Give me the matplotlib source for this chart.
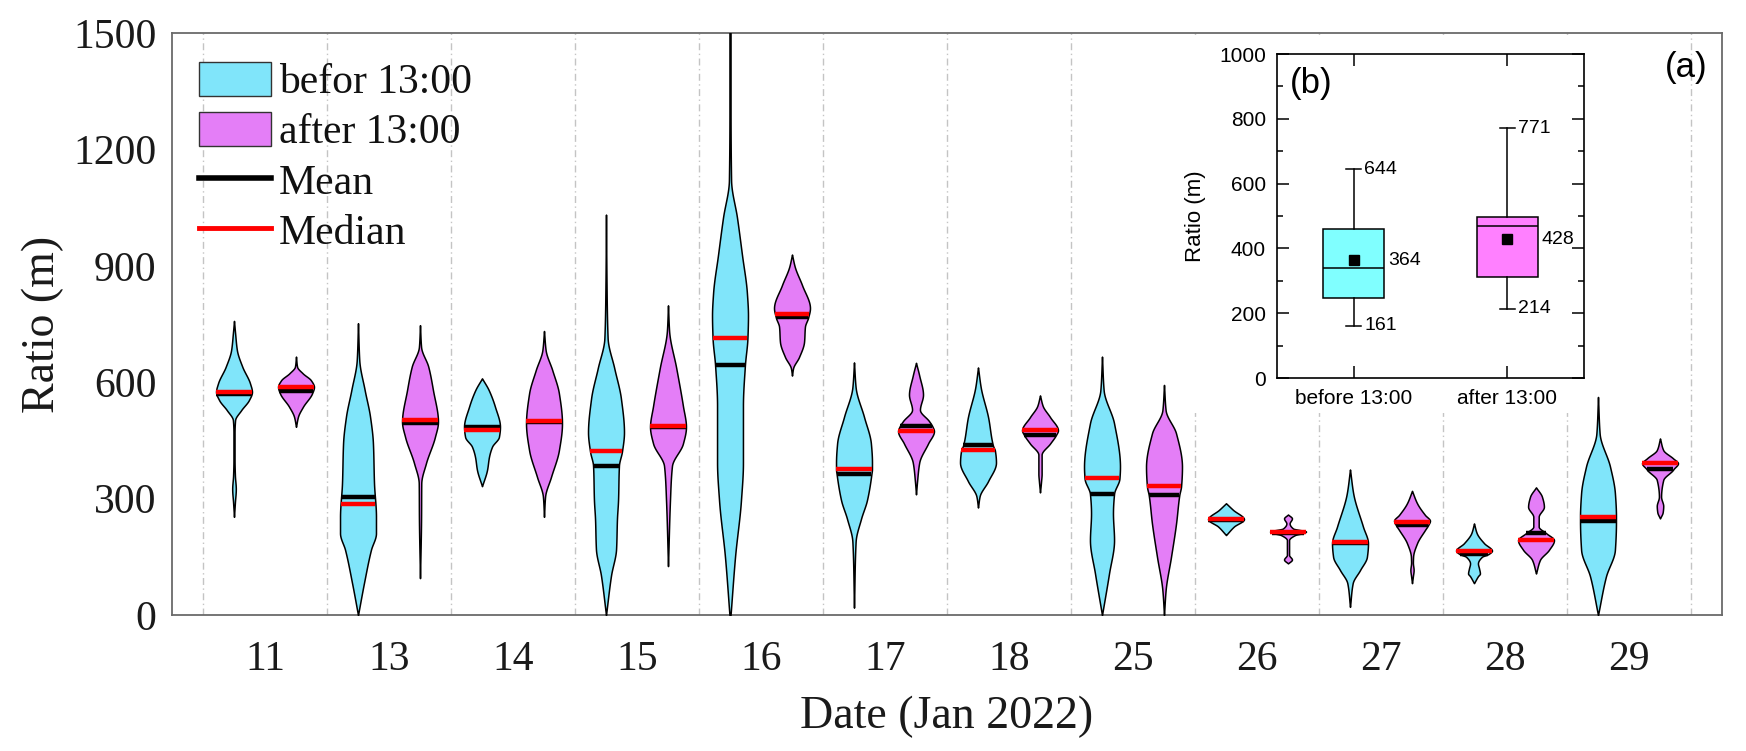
import numpy as np
import matplotlib
matplotlib.use("Agg")
import matplotlib.pyplot as plt
from matplotlib.patches import Patch, Rectangle
from matplotlib.lines import Line2D
from matplotlib.ticker import MultipleLocator

# ---------------- data ----------------
dates = ["11", "13", "14", "15", "16", "17", "18", "25", "26", "27", "28", "29"]

before_mean = [570, 303, 484, 385, 644, 364, 437, 312, 245, 185, 157, 242]
before_median = [575, 285, 476, 422, 714, 376, 424, 352, 247, 188, 166, 253]
after_mean = [577, 495, 497, 485, 767, 487, 465, 309, 212, 232, 211, 376]
after_median = [588, 503, 500, 487, 777, 474, 476, 332, 215, 240, 193, 391]

# violin density profiles: ratio levels (m) and relative density (0..1)
before_levels = [
    [253, 290, 325, 360, 400, 470, 502, 528, 554, 575, 597, 640, 683, 727, 758],
    [0, 82, 168, 211, 253, 340, 443, 511, 580, 657, 752],
    [332, 374, 408, 434, 459, 485, 537, 580, 610],
    [0, 102, 170, 248, 296, 385, 422, 471, 558, 636, 714, 850, 1032],
    [0, 150, 296, 393, 539, 644, 714, 772, 830, 927, 1024, 1121, 1300, 1500],
    [19, 189, 248, 296, 364, 376, 393, 442, 510, 587, 651],
    [277, 306, 345, 393, 424, 437, 510, 587, 638],
    [0, 107, 193, 262, 312, 352, 382, 494, 580, 666],
    [206, 228, 247, 271, 288],
    [21, 82, 116, 150, 185, 228, 313, 375],
    [82, 100, 107, 120, 133, 150, 157, 166, 185, 211, 236],
    [0, 99, 168, 242, 253, 314, 382, 468, 562],
]
before_density = [
    [0, 0.05, 0.1, 0.05, 0.03, 0.03, 0.06, 0.4, 0.83, 1.0, 0.89, 0.46, 0.16, 0.06, 0],
    [0, 0.33, 0.72, 1.0, 1.0, 0.89, 0.83, 0.67, 0.37, 0.07, 0],
    [0, 0.28, 0.39, 0.56, 0.94, 1.0, 0.72, 0.37, 0],
    [0, 0.28, 0.56, 0.61, 0.67, 0.72, 0.89, 1.0, 0.83, 0.46, 0.09, 0.03, 0],
    [0.03, 0.28, 0.61, 0.72, 0.72, 0.83, 0.97, 1.0, 0.94, 0.67, 0.39, 0.06, 0.03, 0.03],
    [0, 0.09, 0.39, 0.72, 0.97, 1.0, 1.0, 0.94, 0.56, 0.09, 0],
    [0, 0.09, 0.56, 1.0, 0.94, 0.83, 0.56, 0.15, 0],
    [0, 0.39, 0.67, 0.61, 0.67, 0.97, 1.0, 0.67, 0.09, 0],
    [0, 0.44, 1.0, 0.39, 0],
    [0, 0.15, 0.56, 0.94, 1.0, 0.72, 0.18, 0],
    [0, 0.22, 0.33, 0.28, 0.22, 0.44, 0.8, 1.0, 0.56, 0.15, 0],
    [0, 0.44, 0.94, 1.0, 1.0, 0.94, 0.67, 0.09, 0],
]
after_levels = [
    [485, 511, 537, 571, 588, 605, 623, 640, 666],
    [95, 253, 339, 391, 459, 498, 580, 640, 691, 747],
    [253, 305, 356, 425, 494, 571, 631, 683, 732],
    [126, 296, 384, 442, 485, 539, 636, 733, 798],
    [617, 636, 665, 704, 743, 767, 791, 850, 898, 929],
    [311, 345, 393, 442, 474, 487, 500, 529, 568, 617, 650],
    [316, 345, 364, 413, 442, 465, 476, 510, 539, 566],
    [0, 64, 150, 236, 309, 332, 382, 468, 528, 593],
    [133, 143, 155, 193, 206, 212, 215, 223, 236, 249, 259],
    [82, 100, 116, 135, 150, 185, 219, 232, 243, 258, 288, 320],
    [107, 142, 168, 193, 211, 228, 253, 279, 305, 329],
    [249, 265, 281, 305, 348, 374, 376, 391, 404, 425, 455],
]
after_density = [
    [0, 0.11, 0.39, 0.89, 1.0, 0.83, 0.37, 0.06, 0],
    [0, 0.06, 0.07, 0.33, 0.83, 1.0, 0.72, 0.46, 0.06, 0],
    [0, 0.06, 0.39, 0.83, 1.0, 0.83, 0.46, 0.09, 0],
    [0, 0.11, 0.22, 0.83, 1.0, 0.83, 0.46, 0.06, 0],
    [0, 0.06, 0.39, 0.67, 0.72, 0.9, 1.0, 0.56, 0.15, 0],
    [0, 0.06, 0.18, 0.67, 1.0, 0.9, 0.72, 0.22, 0.39, 0.18, 0],
    [0, 0.06, 0.09, 0.09, 0.56, 0.9, 1.0, 0.56, 0.15, 0],
    [0, 0.09, 0.39, 0.67, 0.85, 0.95, 1.0, 0.67, 0.09, 0],
    [0, 0.22, 0.06, 0.06, 0.39, 0.9, 1.0, 0.28, 0.09, 0.22, 0],
    [0, 0.05, 0.09, 0.05, 0.06, 0.28, 0.72, 0.9, 1.0, 0.72, 0.28, 0],
    [0, 0.22, 0.72, 1.0, 0.56, 0.15, 0.15, 0.44, 0.33, 0],
    [0, 0.15, 0.18, 0.06, 0.18, 0.72, 0.75, 1.0, 0.72, 0.18, 0],
]

# inset box statistics
box_labels = ["before 13:00", "after 13:00"]
box_whislo = [161, 214]
box_q1 = [248, 313]
box_med = [340, 469]
box_q3 = [459, 498]
box_whishi = [644, 771]
box_mean = [364, 428]

# ---------------- helpers ----------------
def pchip(x, y, xn):
    x = np.asarray(x, float)
    y = np.asarray(y, float)
    xn = np.asarray(xn, float)
    h = np.diff(x)
    delta = np.diff(y) / h
    n = len(x)
    m = np.zeros(n)
    for k in range(1, n - 1):
        if delta[k - 1] * delta[k] > 0:
            w1 = 2 * h[k] + h[k - 1]
            w2 = h[k] + 2 * h[k - 1]
            m[k] = (w1 + w2) / (w1 / delta[k - 1] + w2 / delta[k])
    m[0] = delta[0]
    m[-1] = delta[-1]
    idx = np.clip(np.searchsorted(x, xn) - 1, 0, n - 2)
    t = (xn - x[idx]) / h[idx]
    h00 = 2 * t**3 - 3 * t**2 + 1
    h10 = t**3 - 2 * t**2 + t
    h01 = -2 * t**3 + 3 * t**2
    h11 = t**3 - t**2
    out = h00 * y[idx] + h10 * h[idx] * m[idx] + h01 * y[idx + 1] + h11 * h[idx] * m[idx + 1]
    return np.clip(out, 0, None)

CYAN = "#80E5FA"
MAGENTA = "#E47EF7"
HALF_W = 0.145
OFFSET = 0.25

W, H = 1746, 751
fig = plt.figure(figsize=(W / 100, H / 100), dpi=100)
plt.rcParams["font.family"] = ["Liberation Serif", "DejaVu Serif"]

ax = fig.add_axes([172 / W, 1 - 615 / H, (1722 - 172) / W, (615 - 33) / H])

n = len(dates)
xc = np.arange(n)

def draw_violin(x0, levels, dens, mean, median, color):
    yy = np.linspace(levels[0], levels[-1], 400)
    ww = pchip(levels, dens, yy) * HALF_W
    ax.fill_betweenx(yy, x0 - ww, x0 + ww, facecolor=color, edgecolor="black",
                     linewidth=1.1, zorder=3)
    wm = float(pchip(levels, dens, [mean])[0]) * HALF_W
    wd = float(pchip(levels, dens, [median])[0]) * HALF_W
    ax.hlines(mean, x0 - wm, x0 + wm, color="black", linewidth=3.2, zorder=4)
    ax.hlines(median, x0 - wd, x0 + wd, color="#FF0000", linewidth=3.2, zorder=5)

for i in range(n):
    draw_violin(xc[i] - OFFSET, before_levels[i], before_density[i],
                before_mean[i], before_median[i], CYAN)
    draw_violin(xc[i] + OFFSET, after_levels[i], after_density[i],
                after_mean[i], after_median[i], MAGENTA)

for k in range(n + 1):
    ax.axvline(k - 0.5, color="#C4C4C4", linewidth=1.0,
               linestyle=(0, (5, 2.5, 1, 2.5)), zorder=1)

ax.set_xlim(-0.75, n - 0.25)
ax.set_ylim(0, 1500)
ax.set_xticks(xc)
ax.set_xticklabels(dates)
ax.set_yticks(np.arange(0, 1501, 300))
ax.tick_params(axis="both", length=0, labelsize=30, colors="#1A1A1A")
ax.tick_params(axis="y", pad=11)
ax.tick_params(axis="x", pad=18)
for s in ax.spines.values():
    s.set_color("#6A6A6A")
    s.set_linewidth(1.3)

ax.set_xlabel("Date (Jan 2022)", fontsize=33, color="#1A1A1A")
ax.xaxis.label.set_va("baseline")
ax.xaxis.set_label_coords(0.5, (615 - 728) / 582)
ax.set_ylabel("Ratio (m)", fontsize=33, color="#1A1A1A")
ax.yaxis.label.set_va("center")
ax.yaxis.set_label_coords((43 - 172) / 1550, 0.5)

handles = [
    Patch(facecolor=CYAN, edgecolor="#333333", linewidth=1.0, label="befor 13:00"),
    Patch(facecolor=MAGENTA, edgecolor="#333333", linewidth=1.0, label="after 13:00"),
    Line2D([], [], color="black", linewidth=4, label="Mean"),
    Line2D([], [], color="#FF0000", linewidth=3.5, label="Median"),
]
leg = ax.legend(handles=handles, loc="upper left",
                bbox_to_anchor=((199 - 172) / 1550, (615 - 62) / 582),
                frameon=False, fontsize=30, borderpad=0, borderaxespad=0,
                handlelength=1.73, handleheight=0.86, handletextpad=0.18,
                labelspacing=0.24)
for t in leg.get_texts():
    t.set_color("#111111")

ax.text((1686 - 172) / 1550, (615 - 67) / 582, "(a)", transform=ax.transAxes,
        ha="center", va="center", fontsize=25, family=["Liberation Sans", "DejaVu Sans"])

# white background behind the inset
bg = Rectangle((1175 / W, 1 - 413 / H), (1592 - 1175) / W, (413 - 38) / H,
               transform=fig.transFigure, facecolor="white", edgecolor="none", zorder=1)
fig.patches.append(bg)

# ---------------- inset ----------------
sans = ["Liberation Sans", "DejaVu Sans"]
axi = fig.add_axes([1277 / W, 1 - 378 / H, (1584 - 1277) / W, (378 - 54) / H])
axi.set_zorder(2)
stats = []
for j in range(len(box_labels)):
    stats.append(dict(whislo=box_whislo[j], q1=box_q1[j], med=box_med[j],
                      q3=box_q3[j], whishi=box_whishi[j], mean=box_mean[j],
                      fliers=[], label=box_labels[j]))
bp = axi.bxp(stats, positions=[1, 2], widths=0.4, patch_artist=True, showmeans=True,
             showfliers=False,
             boxprops=dict(linewidth=1.1, edgecolor="black"),
             medianprops=dict(color="black", linewidth=1.1),
             whiskerprops=dict(color="black", linewidth=1.1),
             capprops=dict(color="black", linewidth=1.1),
             capwidths=0.1,
             meanprops=dict(marker="s", markerfacecolor="black", markeredgecolor="black",
                            markersize=7))
for patch, col in zip(bp["boxes"], ["#80FFFF", "#FF80FF"]):
    patch.set_facecolor(col)

axi.set_xlim(0.5, 2.5)
axi.set_ylim(0, 1000)
axi.yaxis.set_major_locator(MultipleLocator(200))
axi.yaxis.set_minor_locator(MultipleLocator(100))
axi.set_xticks([1, 2])
axi.set_xticklabels(box_labels, family=sans)
for lab in axi.get_yticklabels():
    lab.set_family(sans)
axi.tick_params(axis="both", which="both", direction="in", top=True, right=True, width=1.1)
axi.tick_params(axis="both", which="major", length=8.5, labelsize=15)
axi.tick_params(axis="both", which="minor", length=4.5)
axi.tick_params(axis="y", pad=8)
axi.tick_params(axis="x", pad=8)
for s in axi.spines.values():
    s.set_linewidth(1.2)
axi.set_ylabel("Ratio (m)", fontsize=16, family=sans)
axi.yaxis.set_label_coords((1195 - 1277) / 307, 0.5)
axi.yaxis.label.set_va("center")

for j in range(len(box_labels)):
    axi.text(1 + j + 0.07, box_whishi[j], str(box_whishi[j]), va="center", ha="left",
             fontsize=14, family=sans)
    axi.text(1 + j + 0.07, box_whislo[j], str(box_whislo[j]), va="center", ha="left",
             fontsize=14, family=sans)
    axi.text(1 + j + 0.225, box_mean[j], str(box_mean[j]), va="center", ha="left",
             fontsize=14, family=sans)
axi.text(0.042, 0.91, "(b)", transform=axi.transAxes, ha="left", va="center",
         fontsize=25, family=sans)

fig.savefig("out.png", dpi=100)
